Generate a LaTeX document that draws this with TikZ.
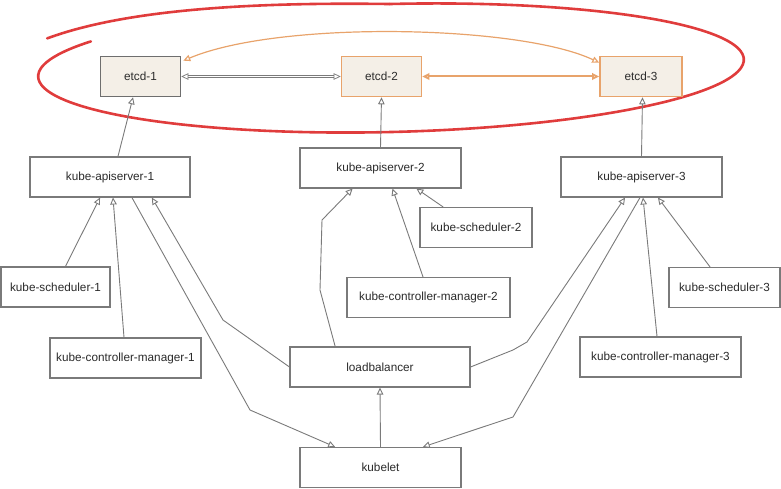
\documentclass[tikz,border=0pt]{standalone}
\usepackage{fontspec}
\setmainfont{Liberation Sans}
\usetikzlibrary{arrows.meta}

\definecolor{boxgray}{HTML}{7A7A7A}
\definecolor{etcdorange}{HTML}{E8A36B}
\definecolor{etcdfill}{HTML}{F4EFE7}
\definecolor{ringred}{HTML}{E03C3C}
\definecolor{txtgray}{HTML}{2B2B2B}

\begin{document}
\begin{tikzpicture}[x=1bp,y=-1bp,>={Triangle[open,length=7bp,width=6.5bp]},
  box/.style={draw=boxgray,line width=1.1bp,fill=white,minimum height=40bp,inner sep=0pt,text=txtgray,font=\fontsize{11.8}{13}\selectfont},
  etcdbox/.style={box,line width=1.6bp,fill=etcdfill,minimum width=80bp},
  link/.style={->,draw=boxgray,line width=0.9bp},
  peer/.style={<->,draw=etcdorange,line width=1.2bp},
  ring/.style={draw=ringred,line width=2.6bp,line cap=round}]

\useasboundingbox (0,0) rectangle (781,489);

% the etcd ring
\begin{scope}[rotate around={1.4:(391,68)}]
\draw[ring] (48,30) .. controls (130,2) and (260,-1) .. (391,4);
\draw[ring] plot[domain=90:-212,samples=100,smooth] ({391+353*cos(\x)},{68-64*sin(\x)});
\end{scope}

\node[etcdbox,draw=boxgray!90!black] (etcd1) at (140.5,76.5) {etcd-1};
\node[etcdbox,draw=etcdorange] (etcd2) at (381.5,76.5) {etcd-2};
\node[etcdbox,draw=etcdorange,minimum width=82bp] (etcd3) at (641,76.5) {etcd-3};

\node[box,minimum width=160bp] (api1) at (110,177) {kube-apiserver-1};
\node[box,minimum width=161bp] (api2) at (380.5,168) {kube-apiserver-2};
\node[box,minimum width=161bp] (api3) at (641.5,177) {kube-apiserver-3};

\node[box,minimum width=109bp] (sch1) at (55.5,287) {kube-scheduler-1};
\node[box,minimum width=151bp] (cm1) at (125.5,358) {kube-controller-manager-1};
\node[box,minimum width=112bp] (sch2) at (476,227.5) {kube-scheduler-2};
\node[box,minimum width=163bp] (cm2) at (428.5,297.5) {kube-controller-manager-2};
\node[box,minimum width=111bp] (sch3) at (724.5,287.5) {kube-scheduler-3};
\node[box,minimum width=161bp] (cm3) at (660.5,357) {kube-controller-manager-3};

\node[box,minimum width=180bp] (lb) at (380,367) {loadbalancer};
\node[box,minimum width=161bp] (kubelet) at (380.5,467.5) {kubelet};

% etcd peers
\draw[<->,boxgray,line width=0.7bp,double=white,double distance=1.4bp] (etcd1.east) -- (etcd2.west);
\draw[peer,line width=2bp] (etcd2.east) -- (etcd3.west);
\draw[peer] ([xshift=2,yshift=-5]etcd1.north east) .. controls (280,20) and (520,25) .. ([yshift=-7]etcd3.north west);

% apiservers to etcd
\draw[link] ([xshift=8]api1.north) -- ([xshift=-7.5]etcd1.south);
\draw[link] (api2.north) -- (etcd2.south);
\draw[link] (api3.north) -- ([xshift=1.5]etcd3.south);

% control plane 1
\draw[link] ([xshift=10]sch1.north) -- ([xshift=-10]api1.south);
\draw[link] ([xshift=-1.5]cm1.north) -- ([xshift=3]api1.south);
\draw[link] ([xshift=22]api1.south) -- (250,410) -- ([xshift=-45.5]kubelet.north);
\draw[link] (lb.west) -- (223,320) -- ([xshift=42]api1.south);

% control plane 2
\draw[link] ([xshift=-45]lb.north) -- (320,290) -- (322,220) -- ([xshift=-28]api2.south);
\draw[link] ([xshift=-5.5]cm2.north) -- ([xshift=12]api2.south);
\draw[link] ([xshift=-33]sch2.north) -- ([xshift=36]api2.south);

% control plane 3
\draw[link] (lb.east) -- (513,350) -- (527,342) -- ([xshift=-16.5]api3.south);
\draw[link] ([xshift=-1.5]api3.south) -- (513,417) -- ([xshift=42.5]kubelet.north);
\draw[link] ([xshift=-3.5]cm3.north) -- ([xshift=1.5]api3.south);
\draw[link] ([xshift=-14.5]sch3.north) -- ([xshift=16.5]api3.south);

% kubelet to loadbalancer
\draw[link] (kubelet.north) -- (lb.south);

\end{tikzpicture}
\end{document}
